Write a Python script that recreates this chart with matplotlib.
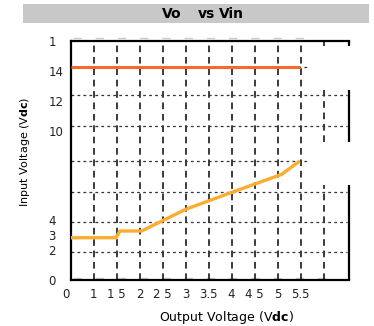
import matplotlib
matplotlib.use("Agg")
import matplotlib.pyplot as plt
from matplotlib.patches import Rectangle
from matplotlib.transforms import ScaledTranslation

plt.rcParams['lines.scale_dashes'] = False
plt.rcParams['mathtext.fontset'] = 'custom'
plt.rcParams['mathtext.rm'] = 'Liberation Sans Narrow'
plt.rcParams['mathtext.bf'] = 'Liberation Sans Narrow:bold'

NARROW = ['Liberation Sans Narrow', 'DejaVu Sans']

# ---- data (x in grid-step units, y in input volts) ----
vmax_x = [0.0, 9.96]
vmax_y = [14.24, 14.24]
vmin_x = [0.0, 1.97, 2.15, 3.09, 5.0, 7.01, 9.17, 9.96]
vmin_y = [2.83, 2.83, 3.28, 3.28, 4.73, 5.87, 7.07, 7.96]

xtick_pos = [0, 1, 2, 3, 4, 5, 6, 7, 8, 9, 10]
xtick_labels = ['0', '1', '1 5', '2', '2 5', '3', '3.5', '4', '4 5', '5', '5.5']
ytick_pos = [0, 2, 3, 4, 10, 12, 14, 16]
ytick_labels = ['0', '2', '3', '4', '10', '12', '14', '1']

# grid layout
vgrid = [1, 2, 3, 4, 5, 6, 7, 8, 9, 10]
hgrid_long = [12.38, 10.33, 5.91, 3.90, 1.85]
hgrid_short = [14.24, 7.97]
right_pieces = [(15.66, 16.0), (9.24, 12.72), (0.0, 6.36)]

W, H = 374, 326
fig = plt.figure(figsize=(W / 100, H / 100), dpi=100)
ax = fig.add_axes([70.5 / W, 1 - 280 / H, (349 - 70.5) / W, (280 - 41) / H])

# title banner
fig.patches.append(Rectangle((22.7 / W, 1 - 23.3 / H), (369 - 22.7) / W, 19.3 / H,
                             transform=fig.transFigure, facecolor='#c8c8c8',
                             edgecolor='none', zorder=0))
for txt, cx in [('Vo', 171.5), ('vs', 206.0), ('Vin', 231.0)]:
    fig.text(cx / W, 1 - 14 / H, txt, ha='center', va='center', fontsize=10,
             fontweight='bold', family=NARROW)

# grid
vstyle = dict(color='#1a1a1a', lw=1.2, linestyle=(0, (4.8, 3.4)))
hstyle = dict(color='#333333', lw=0.9, linestyle=(0, (2.0, 2.3)))
for gx in vgrid:
    ax.plot([gx, gx], [0, 16], zorder=1, **vstyle)
for lo, hi in right_pieces:
    ax.plot([11, 11], [lo, hi], zorder=1, **vstyle)
for gy in hgrid_long:
    ax.plot([0, 12.0], [gy, gy], zorder=1, **hstyle)
for gy in hgrid_short:
    ax.plot([0, 10.26], [gy, gy], zorder=1, **hstyle)

# ghost marks near frame
ax.plot([0.1, 10.6], [16.18, 16.18], color='#cccccc', lw=1.0,
        linestyle=(0, (6, 10)), clip_on=False, zorder=0)
ax.plot([0.1, 11.6], [0.12, 0.12], color='#cccccc', lw=1.0,
        linestyle=(0, (6, 10)), clip_on=False, zorder=0)

# curves
ax.plot(vmax_x, vmax_y, color='#f26a2c', lw=2.2, solid_capstyle='butt', zorder=3)
ax.plot(vmin_x, vmin_y, color='#fbad2f', lw=2.4, solid_capstyle='butt',
        solid_joinstyle='round', zorder=3)

# frame
ax.spines['right'].set_visible(False)
for s in ['left', 'top', 'bottom']:
    ax.spines[s].set_linewidth(1.6)
    ax.spines[s].set_color('black')
for lo, hi in right_pieces:
    ax.plot([12.1, 12.1], [lo, hi], color='black', lw=1.6, clip_on=False,
            solid_capstyle='butt', zorder=4)

ax.set_xticks(xtick_pos)
ax.set_xticklabels(xtick_labels, family=NARROW, fontsize=8.5, color='#222222')
ax.set_yticks(ytick_pos)
ax.set_yticklabels(ytick_labels, family=NARROW, fontsize=8.5, color='#222222')
ax.set_xlim(0, 12.1)
ax.set_ylim(0, 16)
ax.tick_params(axis='both', length=0)
ax.tick_params(axis='x', pad=6)
ax.tick_params(axis='y', pad=16)
for lab in ax.get_yticklabels():
    lab.set_horizontalalignment('left')
first = ax.get_xticklabels()[0]
first.set_transform(first.get_transform() + ScaledTranslation(-5 / 100, 0, fig.dpi_scale_trans))

fig.text(226 / W, 1 - 318 / H, r'Output Voltage (V$\mathbf{dc}$)', ha='center',
         va='center', fontsize=9, family=NARROW)
fig.text(25 / W, 1 - 152 / H, r'Input Voltage (V$\mathbf{dc}$)', ha='center',
         va='center', fontsize=8, rotation=90, family=NARROW)

fig.savefig('out.png', dpi=100)
